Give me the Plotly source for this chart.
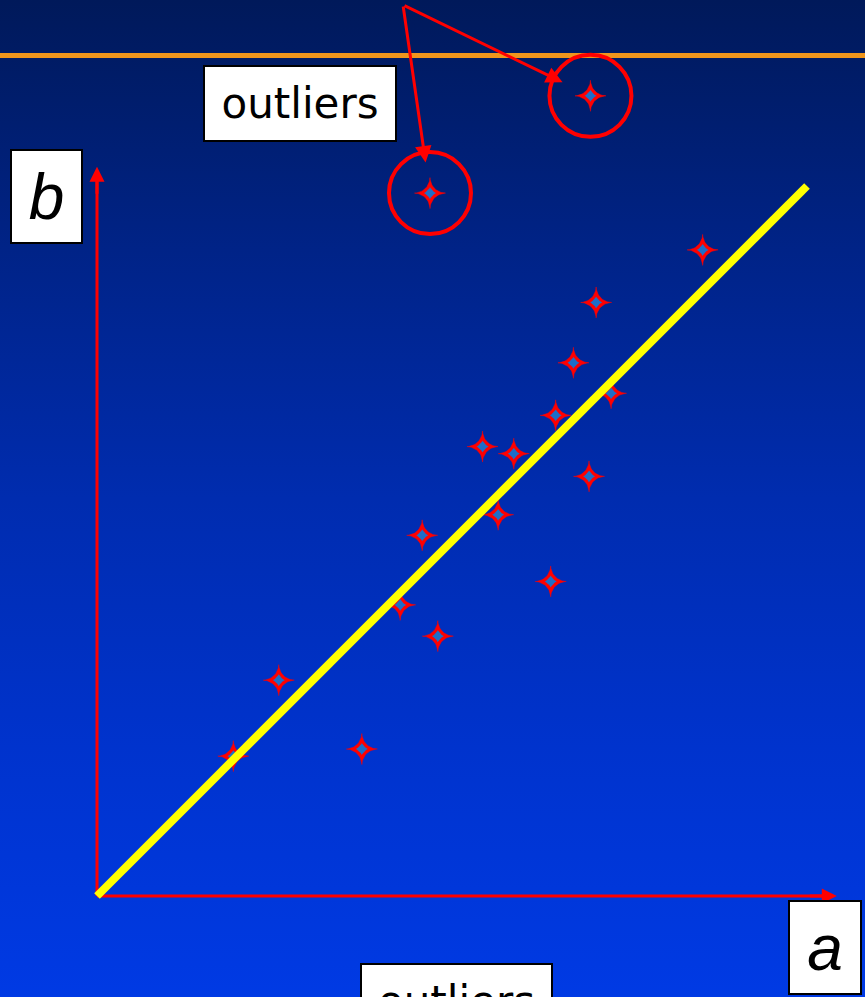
import numpy as np
import plotly.graph_objects as go

# ---- data (a, b) ----
pts_a = [8.53, 7.03, 6.71, 7.24, 6.46, 5.43, 5.87, 6.93, 5.65, 4.58, 6.39, 4.27, 4.80, 2.56, 1.92, 3.73]
pts_b = [9.10, 8.36, 7.51, 7.08, 6.77, 6.33, 6.23, 5.91, 5.37, 5.08, 4.43, 4.10, 3.66, 3.04, 1.97, 2.07]
outlier_a = [4.69, 6.95]
outlier_b = [9.90, 11.27]
fit_a = [0.0, 10.0]
fit_b = [0.0, 10.0]
axis_a_max = 10.42
axis_b_max = 10.27
label_origin_a = 4.31
label_origin_b = 12.55

# ---- page geometry ----
W, H = 865, 997
PX = 71.0                      # pixels per data unit on both axes
X0_PX, Y0_PX = 97.0, 896.0     # pixel position of the origin
x_range = [-X0_PX / PX, (W - X0_PX) / PX]
y_range = [(Y0_PX - H) / PX, Y0_PX / PX]


def star_path(cx, cy, r, k, n=96):
    """Four-pointed concave star outlines, separated by gaps."""
    t = np.linspace(0, 2 * np.pi, n)
    c, s = np.cos(t), np.sin(t)
    sx = r * np.sign(c) * np.abs(c) ** k
    sy = r * np.sign(s) * np.abs(s) ** k
    xs, ys = [], []
    for a, b in zip(cx, cy):
        xs += list(a + sx) + [None]
        ys += list(b + sy) + [None]
    return xs, ys


fig = go.Figure()

# background gradient
fig.add_trace(go.Scatter(
    x=[x_range[0], x_range[1], x_range[1], x_range[0], x_range[0]],
    y=[y_range[0], y_range[0], y_range[1], y_range[1], y_range[0]],
    mode="lines", line=dict(width=0), fill="toself",
    fillgradient=dict(
        type="vertical",
        start=y_range[0], stop=y_range[1],
        colorscale=[[0.0, "rgb(0,58,228)"], [0.25, "rgb(0,51,205)"],
                    [0.5, "rgb(0,44,175)"], [0.75, "rgb(0,35,135)"],
                    [1.0, "rgb(0,25,90)"]]),
    hoverinfo="skip", showlegend=False))

# red axes (lines; heads added as annotations)
head = 14 / PX
fig.add_trace(go.Scatter(x=[0, 0, None, 0, axis_a_max - head],
                         y=[axis_b_max - head, 0, None, 0, 0],
                         mode="lines", line=dict(color="#ff0000", width=3),
                         hoverinfo="skip", showlegend=False))

# star markers
all_a = pts_a + outlier_a
all_b = pts_b + outlier_b
sx, sy = star_path(all_a, all_b, 15.5 / PX, 3.5)
fig.add_trace(go.Scatter(x=sx, y=sy, mode="lines", line=dict(width=0.5, color="#ff0000"),
                         fill="toself", fillcolor="#ff0000",
                         hoverinfo="skip", showlegend=False))
bx, by = star_path(all_a, all_b, 6.0 / PX, 2.5)
fig.add_trace(go.Scatter(x=bx, y=by, mode="lines", line=dict(width=0),
                         fill="toself", fillcolor="#1e6ec8",
                         hoverinfo="skip", showlegend=False))

# fitted line
fig.add_trace(go.Scatter(x=fit_a, y=fit_b, mode="lines",
                         line=dict(color="#ffff00", width=8),
                         hoverinfo="skip", showlegend=False))

shapes = [
    dict(type="line", xref="paper", yref="paper", x0=0, x1=1,
         y0=1 - 55.5 / H, y1=1 - 55.5 / H,
         line=dict(color="#f0961c", width=5)),
]
circ_r = 41 / PX
for a, b in zip(outlier_a, outlier_b):
    shapes.append(dict(type="circle", xref="x", yref="y",
                       x0=a - circ_r, x1=a + circ_r, y0=b - circ_r, y1=b + circ_r,
                       line=dict(color="#ff0000", width=4)))

annotations = [
    # axis arrow heads
    dict(x=axis_a_max, y=0, ax=axis_a_max - 0.4, ay=0, xref="x", yref="y",
         axref="x", ayref="y", text="", showarrow=True, arrowhead=2,
         arrowwidth=3, arrowsize=1, arrowcolor="#ff0000"),
    dict(x=0, y=axis_b_max, ax=0, ay=axis_b_max - 0.4, xref="x", yref="y",
         axref="x", ayref="y", text="", showarrow=True, arrowhead=2,
         arrowwidth=3, arrowsize=1, arrowcolor="#ff0000"),
]
for a, b in zip(outlier_a, outlier_b):
    annotations.append(dict(x=a, y=b, ax=label_origin_a, ay=label_origin_b,
                            xref="x", yref="y", axref="x", ayref="y", text="",
                            showarrow=True, arrowhead=2, arrowwidth=3,
                            arrowsize=1.1, standoff=31, arrowcolor="#ff0000"))


def box_label(text, cx, cy, w, h, font):
    return dict(text=text, xref="paper", yref="paper", x=cx / W, y=1 - cy / H,
                xanchor="center", yanchor="middle", showarrow=False,
                width=w, height=h, bgcolor="#ffffff", bordercolor="#000000",
                borderwidth=2, borderpad=0, font=font, align="center",
                valign="middle")


font_out = dict(family="DejaVu Sans", size=42, color="#000000")
font_ab = dict(family="Liberation Sans, Arial", size=64, color="#000000", style="italic")
annotations += [
    box_label("outliers", 300, 103.5, 190, 73, font_out),
    box_label("outliers", 456.5, 1001.5, 189, 73, font_out),
    box_label("b", 46.5, 196.5, 69, 91, font_ab),
    box_label("a", 825, 947.5, 70, 91, font_ab),
]

fig.update_layout(
    width=W, height=H, margin=dict(l=0, r=0, t=0, b=0),
    paper_bgcolor="rgb(0,40,160)", plot_bgcolor="rgba(0,0,0,0)",
    xaxis=dict(range=x_range, visible=False, fixedrange=True),
    yaxis=dict(range=y_range, visible=False, fixedrange=True),
    shapes=shapes, annotations=annotations, showlegend=False,
)

fig.write_html("out.html", config={"displayModeBar": False})
